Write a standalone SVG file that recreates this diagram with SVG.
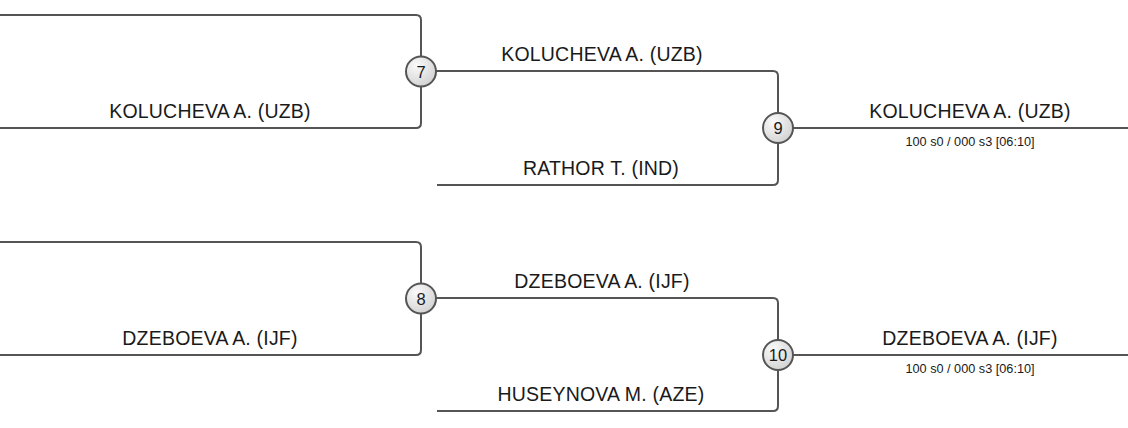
<svg xmlns="http://www.w3.org/2000/svg" width="1128" height="428" viewBox="0 0 1128 428">
<defs>
<radialGradient id="g" cx="35%" cy="30%" r="75%">
<stop offset="0" stop-color="#fafafa"/>
<stop offset="1" stop-color="#d2d2d2"/>
</radialGradient>
<style>
.ln{fill:none;stroke:#555;stroke-width:2}
.c{fill:url(#g);stroke:#555;stroke-width:2}
.n{font-family:"Liberation Sans",Arial,sans-serif;font-size:19.5px;fill:#1a1a1a;text-anchor:middle;letter-spacing:0.2px}
.s{font-family:"Liberation Sans",Arial,sans-serif;font-size:12.7px;fill:#1a1a1a;text-anchor:middle}
.num{font-family:"Liberation Sans",Arial,sans-serif;font-size:16.5px;fill:#1a1a1a;text-anchor:middle}
</style>
</defs>
<rect width="1128" height="428" fill="#fff"/>
<g id="connectors">
<path class="ln" d="M0 15 H416 Q421 15 421 20 V56"/>
<path class="ln" d="M0 128 H416 Q421 128 421 123 V87"/>
<path class="ln" d="M436 71 H773 Q778 71 778 76 V113"/>
<path class="ln" d="M437 185 H773 Q778 185 778 180 V143"/>
<path class="ln" d="M793 128 H1128"/>
<path class="ln" d="M0 242 H416 Q421 242 421 247 V283"/>
<path class="ln" d="M0 355 H416 Q421 355 421 350 V314"/>
<path class="ln" d="M436 298 H773 Q778 298 778 303 V340"/>
<path class="ln" d="M437 411 H773 Q778 411 778 406 V370"/>
<path class="ln" d="M793 355 H1128"/>
</g>
<g id="labels">
<text class="n" x="210" y="118">KOLUCHEVA A. (UZB)</text>
<text class="n" x="602" y="61">KOLUCHEVA A. (UZB)</text>
<text class="n" x="601" y="175">RATHOR T. (IND)</text>
<text class="n" x="970" y="118">KOLUCHEVA A. (UZB)</text>
<text class="s" x="970" y="146">100 s0 / 000 s3 [06:10]</text>
<text class="n" x="210" y="345">DZEBOEVA A. (IJF)</text>
<text class="n" x="602" y="288">DZEBOEVA A. (IJF)</text>
<text class="n" x="601" y="401">HUSEYNOVA M. (AZE)</text>
<text class="n" x="970" y="345">DZEBOEVA A. (IJF)</text>
<text class="s" x="970" y="373">100 s0 / 000 s3 [06:10]</text>
</g>
<g id="node7"><circle class="c" cx="421" cy="71.5" r="15"/><text class="num" x="421" y="77.5">7</text></g>
<g id="node9"><circle class="c" cx="778" cy="128" r="15"/><text class="num" x="778" y="134">9</text></g>
<g id="node8"><circle class="c" cx="421" cy="298.5" r="15"/><text class="num" x="421" y="304.5">8</text></g>
<g id="node10"><circle class="c" cx="778" cy="355" r="15"/><text class="num" x="778" y="361">10</text></g>
</svg>
